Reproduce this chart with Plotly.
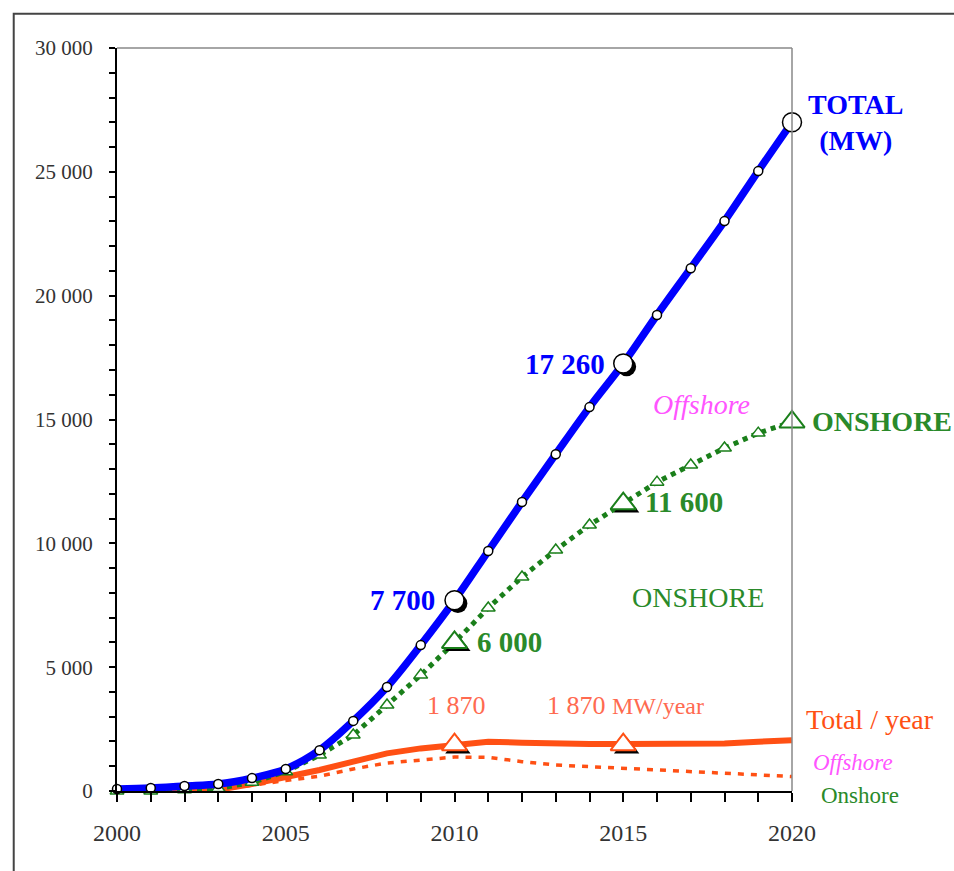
import plotly.graph_objects as go

years = list(range(2000, 2021))
total_mw = [80, 120, 200, 280, 520, 890, 1650, 2830, 4200, 5890, 7700, 9690, 11670,
            13600, 15500, 17260, 19220, 21110, 23010, 25030, 27000]
onshore_mw = [0, 0, 50, 100, 350, 780, 1450, 2260, 3470, 4680, 6000, 7390, 8640,
              9730, 10740, 11600, 12470, 13160, 13850, 14450, 14900]
total_per_year = [0, 0, 0, 50, 280, 550, 850, 1185, 1520, 1720, 1850, 1990, 1950,
                  1900, 1900, 1900, 1900, 1900, 1920, 1990, 2050]
onshore_per_year = [0, 0, 0, 50, 250, 420, 600, 890, 1130, 1250, 1370, 1360, 1185,
                    1050, 980, 915, 850, 780, 715, 650, 585]

key_years = [2010, 2015, 2020]
key_total = [7700, 17260, 27000]
key_onshore = [6000, 11600, 14900]
rate_years = [2010, 2015]
rate_values = [1870, 1870]

y_tickvals = [0, 5000, 10000, 15000, 20000, 25000, 30000]
y_ticktext = ["0", "5 000", "10 000", "15 000", "20 000", "25 000", "30 000"]
x_tickvals = [2000, 2005, 2010, 2015, 2020]
x_ticktext = ["2000", "2005", "2010", "2015", "2020"]

BLUE = "#0000ff"
RED = "#ff5014"
GREEN = "#1a7f1a"
GREEN_T = "#2a8a2a"
MAG = "#ff55ff"
SALMON = "#ff6a50"
SERIF = "Liberation Serif, Times New Roman, serif"

# shadow offsets (in data units) for emphasised markers
DX = 0.1
DY = 130

fig = go.Figure()

fig.add_trace(go.Scatter(x=years, y=onshore_per_year, mode="lines",
                         line=dict(color=RED, width=3.5, dash="6px,7px"),
                         cliponaxis=False, showlegend=False))
fig.add_trace(go.Scatter(x=years, y=total_per_year, mode="lines",
                         line=dict(color=RED, width=6),
                         cliponaxis=False, showlegend=False))
fig.add_trace(go.Scatter(x=years, y=onshore_mw, mode="lines+markers",
                         line=dict(color=GREEN, width=5, dash="dot"),
                         marker=dict(symbol="triangle-up", size=12, color="white",
                                     line=dict(color=GREEN, width=1.5)),
                         cliponaxis=False, showlegend=False))
fig.add_trace(go.Scatter(x=years, y=total_mw, mode="lines+markers",
                         line=dict(color=BLUE, width=7.5, shape="spline"),
                         marker=dict(symbol="circle", size=9, color="white",
                                     line=dict(color="black", width=1.5)),
                         cliponaxis=False, showlegend=False))

fig.add_trace(go.Scatter(x=[x + DX for x in key_years], y=[v - DY for v in key_total],
                         mode="markers", marker=dict(symbol="circle", size=19, color="black"),
                         cliponaxis=False, showlegend=False))
fig.add_trace(go.Scatter(x=key_years, y=key_total, mode="markers",
                         marker=dict(symbol="circle", size=19, color="white",
                                     line=dict(color="black", width=1.5)),
                         cliponaxis=False, showlegend=False))
fig.add_trace(go.Scatter(x=[x + DX for x in key_years], y=[v - DY for v in key_onshore],
                         mode="markers", marker=dict(symbol="triangle-up", size=22, color="black"),
                         cliponaxis=False, showlegend=False))
fig.add_trace(go.Scatter(x=key_years, y=key_onshore, mode="markers",
                         marker=dict(symbol="triangle-up", size=22, color="white",
                                     line=dict(color=GREEN, width=2)),
                         cliponaxis=False, showlegend=False))
fig.add_trace(go.Scatter(x=[x + DX for x in rate_years], y=[v - DY for v in rate_values],
                         mode="markers", marker=dict(symbol="triangle-up", size=22, color="black"),
                         cliponaxis=False, showlegend=False))
fig.add_trace(go.Scatter(x=rate_years, y=rate_values, mode="markers",
                         marker=dict(symbol="triangle-up", size=22, color="white",
                                     line=dict(color=RED, width=2)),
                         cliponaxis=False, showlegend=False))

def ann(x, y, text, color, size, xanchor="left", xshift=0, yshift=0, bold=False, italic=False):
    t = text
    if bold:
        t = "<b>" + t + "</b>"
    if italic:
        t = "<i>" + t + "</i>"
    fig.add_annotation(x=x, y=y, text=t, showarrow=False, xanchor=xanchor, yanchor="middle",
                       xshift=xshift, yshift=yshift,
                       font=dict(family=SERIF, size=size, color=color))

ann(2020, key_total[2], "TOTAL<br>(MW)", BLUE, 28, xanchor="center", xshift=63, bold=True)
ann(2015, key_total[1], "17 260", BLUE, 29, xanchor="right", xshift=-16, bold=True)
ann(2010, key_total[0], "7 700", BLUE, 29, xanchor="right", xshift=-18, bold=True)
ann(2015, key_onshore[1], "11 600", GREEN_T, 29, xanchor="left", xshift=20, yshift=2, bold=True)
ann(2010, key_onshore[0], "6 000", GREEN_T, 29, xanchor="left", xshift=20, bold=True)
ann(2020, key_onshore[2], "ONSHORE", GREEN_T, 28, xanchor="left", xshift=18, bold=True)
ann(2017.33, 15620, "Offshore", MAG, 28, xanchor="center", italic=True)
ann(2017.2, 7830, "ONSHORE", GREEN_T, 28, xanchor="center")
ann(2010.07, 3470, "1 870", SALMON, 26, xanchor="center")
ann(2012.68, 3470, "1 870 <span style='font-size:24px'>MW/year</span>", SALMON, 26, xanchor="left")
ann(2020, 2870, "Total / year", RED, 28, xanchor="left", xshift=12)
ann(2020, 1170, "Offshore", MAG, 23, xanchor="left", xshift=19, italic=True)
ann(2020, 0, "Onshore", GREEN_T, 23, xanchor="left", xshift=27, yshift=-4)

fig.add_shape(type="line", xref="paper", yref="paper", x0=0, x1=1, y0=1, y1=1,
              line=dict(color="#888888", width=1.5))
fig.add_shape(type="line", xref="paper", yref="paper", x0=1, x1=1, y0=0, y1=1,
              line=dict(color="#888888", width=1.5))
fig.add_shape(type="rect", xref="paper", yref="paper", x0=-0.153, x1=2, y0=-1, y1=1.046,
              line=dict(color="#444444", width=2), layer="below")

fig.update_layout(
    width=954, height=871,
    margin=dict(l=117, r=162, t=48, b=80),
    paper_bgcolor="white", plot_bgcolor="white",
    font=dict(family=SERIF, color="#333333"),
    xaxis=dict(range=[2000, 2020], tickvals=x_tickvals, ticktext=x_ticktext,
               showgrid=False, zeroline=False, showline=True, linecolor="black", linewidth=2,
               ticks="outside", ticklen=9, tickwidth=1.5, tickcolor="black",
               ticklabelstandoff=10,
               tickfont=dict(family=SERIF, size=24, color="#333333"),
               minor=dict(dtick=1, ticks="outside", ticklen=9, tickwidth=1.5, tickcolor="black"),
               ),
    yaxis=dict(range=[0, 30000], tickvals=y_tickvals, ticktext=y_ticktext,
               showgrid=False, zeroline=False, showline=True, linecolor="black", linewidth=2,
               ticks="outside", ticklen=6, tickwidth=1.5, tickcolor="black",
               ticklabelstandoff=12,
               tickfont=dict(family=SERIF, size=21, color="#333333"),
               minor=dict(dtick=1000, ticks="outside", ticklen=6, tickwidth=1.5, tickcolor="black"),
               ),
)

fig.write_html("out.html", config={"displayModeBar": False},
               post_script="document.body.style.margin='0';document.body.style.overflow='hidden';")
